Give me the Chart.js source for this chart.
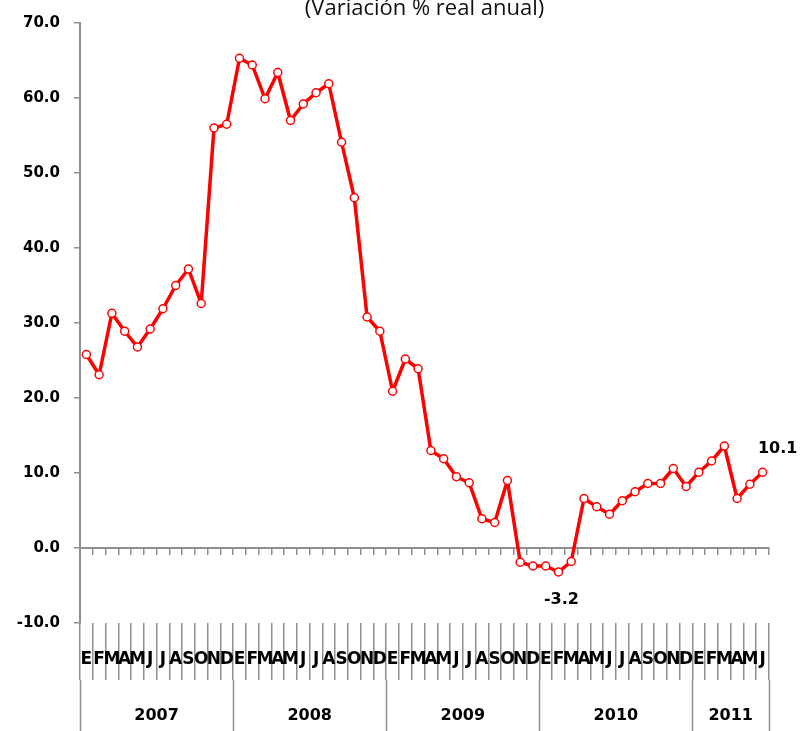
<!DOCTYPE html>
<html>
<head>
<meta charset="utf-8">
<script src="https://cdn.jsdelivr.net/npm/chart.js@4.4.0/dist/chart.umd.min.js"></script>
<style>
  html, body { margin: 0; padding: 0; background: #fff; }
  #wrap { width: 800px; height: 731px; }
</style>
</head>
<body>
<div id="wrap"><canvas id="chart"></canvas></div>
<script>
// months Jan 2007 .. Jun 2011
const monthLetters = ['E', 'F', 'M', 'A', 'M', 'J', 'J', 'A', 'S', 'O', 'N', 'D'];
const years = ['2007', '2008', '2009', '2010', '2011'];
const monthsPerYear = [12, 12, 12, 12, 6];

const values = [
    25.8, 23.1, 31.3, 28.9, 26.8, 29.2, 31.9, 35.0, 37.2, 32.6, 56.0, 56.5,
    65.3, 64.4, 59.9, 63.4, 57.0, 59.2, 60.7, 61.9, 54.1, 46.7, 30.8, 28.9,
    20.9, 25.2, 23.9, 13.0, 11.9, 9.5, 8.7, 3.9, 3.4, 9.0, -1.9, -2.4,
    -2.4, -3.2, -1.8, 6.6, 5.5, 4.5, 6.3, 7.5, 8.6, 8.6, 10.6, 8.2,
    10.1, 11.6, 13.6, 6.6, 8.5, 10.1
];

const yTicks = [-10, 0, 10, 20, 30, 40, 50, 60, 70];
const title = '(Variación % real anual)';

let labels = [];
monthsPerYear.forEach(n => {
    for (let i = 0; i < n; i++) labels.push(monthLetters[i]);
});

const gray = '#8f8f8f';
const boldFont = { family: 'DejaVu Sans', weight: 'bold', size: 15 };

// year row under the month letters
const yearRow = {
    id: 'yearRow',
    afterDraw(chart) {
        const ctx = chart.ctx;
        const x = chart.scales.x2;
        const top = chart.chartArea.bottom + 57;
        const bottom = chart.height;
        ctx.save();
        ctx.strokeStyle = gray;
        ctx.lineWidth = 1.5;
        let start = 0;
        const edges = [0];
        monthsPerYear.forEach(n => { start += n; edges.push(start); });
        edges.forEach(e => {
            const px = Math.round(x.getPixelForValue(e - 0.5)) + 0.5;
            ctx.beginPath();
            ctx.moveTo(px, top);
            ctx.lineTo(px, bottom);
            ctx.stroke();
        });
        ctx.fillStyle = '#000';
        ctx.font = 'bold 16px "DejaVu Sans"';
        ctx.textAlign = 'center';
        ctx.textBaseline = 'middle';
        years.forEach((yr, i) => {
            const a = x.getPixelForValue(edges[i] - 0.5);
            const b = x.getPixelForValue(edges[i + 1] - 0.5);
            ctx.fillText(yr, (a + b) / 2, 716);
        });
        ctx.restore();
    }
};

// labels for the minimum and the last value
const valueLabels = {
    id: 'valueLabels',
    afterDatasetsDraw(chart) {
        const ctx = chart.ctx;
        const pts = chart.getDatasetMeta(0).data;
        let minIdx = 0;
        values.forEach((v, i) => { if (v < values[minIdx]) minIdx = i; });
        const last = values.length - 1;
        ctx.save();
        ctx.fillStyle = '#000';
        ctx.font = 'bold 16px "DejaVu Sans"';
        ctx.textAlign = 'center';
        ctx.textBaseline = 'middle';
        ctx.fillText(values[minIdx].toFixed(1), pts[minIdx].x + 3, pts[minIdx].y + 28);
        ctx.fillText(values[last].toFixed(1), pts[last].x + 15, pts[last].y - 23);
        ctx.restore();
    }
};

new Chart(document.getElementById('chart'), {
    type: 'line',
    data: {
        labels: labels,
        datasets: [{
            data: values,
            borderColor: '#ff0000',
            borderWidth: 3.5,
            borderJoinStyle: 'round',
            pointRadius: 4,
            pointBorderWidth: 1.5,
            pointBackgroundColor: '#ffffff',
            pointBorderColor: '#ff0000',
            tension: 0
        }]
    },
    options: {
        responsive: true,
        maintainAspectRatio: false,
        animation: false,
        layout: { padding: { left: 0, right: 31, top: 0, bottom: 51 } },
        plugins: {
            legend: { display: false },
            tooltip: { enabled: false },
            title: {
                display: true,
                text: title,
                fullSize: false,
                color: '#111',
                font: { family: 'Open Sans', size: 22, weight: 'normal', lineHeight: 1.0 },
                padding: { top: -4, bottom: 3 }
            }
        },
        scales: {
            x: {
                type: 'category',
                position: { y: 0 },
                offset: true,
                grid: {
                    offset: true,
                    drawOnChartArea: false,
                    drawTicks: true,
                    tickLength: 6,
                    color: gray,
                    lineWidth: 1.5
                },
                border: { display: true, color: gray, width: 2 },
                ticks: { display: false, autoSkip: false }
            },
            x2: {
                type: 'category',
                position: 'bottom',
                labels: labels,
                offset: true,
                grid: {
                    offset: true,
                    drawOnChartArea: false,
                    drawTicks: true,
                    tickLength: 57,
                    color: gray,
                    lineWidth: 1.5
                },
                border: { display: false },
                ticks: {
                    autoSkip: false,
                    maxRotation: 0,
                    minRotation: 0,
                    color: '#000',
                    font: { family: 'DejaVu Sans', weight: 'bold', size: 17 },
                    padding: -31
                },
                afterFit: s => { s.height = 57; }
            },
            y: {
                min: -10,
                max: 70,
                afterBuildTicks: s => { s.ticks = yTicks.map(v => ({ value: v })); },
                grid: {
                    drawOnChartArea: false,
                    drawTicks: true,
                    tickLength: 6,
                    color: gray,
                    lineWidth: 1.5
                },
                border: { display: true, color: gray, width: 2 },
                ticks: {
                    color: '#000',
                    font: boldFont,
                    padding: 14,
                    callback: v => v.toFixed(1)
                },
                afterFit: s => { s.width = 80; }
            }
        }
    },
    plugins: [yearRow, valueLabels]
});
</script>
</body>
</html>
